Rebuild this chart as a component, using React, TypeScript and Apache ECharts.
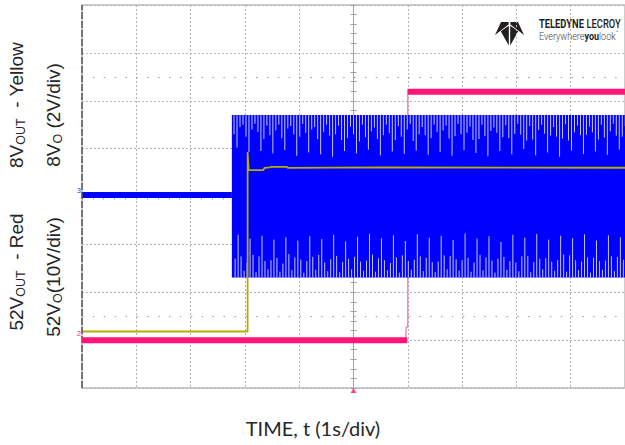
import React, { useEffect, useRef } from "react";
import * as echarts from "echarts";

// Axis extents in divisions (1 s/div horizontally, 8 divisions vertically)
const timeDivs = [-5, 5];
const voltDivs = [-4, 4];

// Blue trace: idle level, then switching band [start, end, high, low]
const blueIdle = [[-5, 0.03], [-2.24, 0.03]];
const blueSwitching = [-2.24, 5.2, 1.7, -1.69];

// Lighter streaks in the switching band: [time, end level]
const blueTopSpikes = [
  [-2.2, 1.3], [-2.145, 1.02], [-2.09, 1.45], [-2.035, 1.5],
  [-1.98, 1.25], [-1.925, 0.93], [-1.87, 1.4], [-1.815, 1.52],
  [-1.76, 1.35], [-1.705, 0.95], [-1.65, 1.2], [-1.595, 1.48],
  [-1.54, 1.28], [-1.485, 0.9], [-1.43, 1.38], [-1.375, 1.5],
  [-1.32, 1.22], [-1.265, 0.97], [-1.21, 1.42], [-1.155, 1.47],
  [-1.1, 1.3], [-1.045, 0.85], [-0.99, 1.25], [-0.935, 1.52],
  [-0.88, 1.33], [-0.825, 0.92], [-0.77, 1.4], [-0.715, 1.45],
  [-0.66, 1.2], [-0.605, 0.88], [-0.55, 1.35], [-0.495, 1.5],
  [-0.44, 1.27], [-0.385, 0.83], [-0.33, 1.3], [-0.275, 1.48],
  [-0.22, 1.18], [-0.165, 0.95], [-0.11, 1.22], [-0.055, 1.46],
  [0, 1.3], [0.055, 0.9], [0.11, 1.15], [0.165, 1.5],
  [0.22, 1.24], [0.275, 0.98], [0.33, 1.36], [0.385, 1.44],
  [0.44, 1.2], [0.495, 0.86], [0.55, 1.28], [0.605, 1.5],
  [0.66, 1.32], [0.715, 0.94], [0.77, 1.18], [0.825, 1.47],
  [0.88, 1.25], [0.935, 0.89], [0.99, 1.4], [1.045, 1.52],
  [1.1, 1.16], [1.155, 0.96], [1.21, 1.3], [1.265, 1.45],
  [1.32, 1.28], [1.375, 0.87], [1.43, 1.22], [1.485, 1.5],
  [1.54, 1.35], [1.595, 0.93], [1.65, 1.38], [1.705, 1.48],
  [1.76, 1.21], [1.815, 0.85], [1.87, 1.26], [1.925, 1.52],
  [1.98, 1.3], [2.035, 0.97], [2.09, 1.33], [2.145, 1.46],
  [2.2, 1.18], [2.255, 0.91], [2.31, 1.2], [2.365, 1.5],
  [2.42, 1.26], [2.475, 0.84], [2.53, 1.37], [2.585, 1.44],
  [2.64, 1.33], [2.695, 0.95], [2.75, 1.24], [2.805, 1.49],
  [2.86, 1.22], [2.915, 0.88], [2.97, 1.31], [3.025, 1.52],
  [3.08, 1.29], [3.135, 0.99], [3.19, 1.17], [3.245, 1.47],
  [3.3, 1.19], [3.355, 0.86], [3.41, 1.39], [3.465, 1.5],
  [3.52, 1.31], [3.575, 0.92], [3.63, 1.27], [3.685, 1.45],
  [3.74, 1.25], [3.795, 0.83], [3.85, 1.21], [3.905, 1.51],
  [3.96, 1.17], [4.015, 0.96], [4.07, 1.34], [4.125, 1.48],
  [4.18, 1.28], [4.235, 0.89], [4.29, 1.29], [4.345, 1.46],
  [4.4, 1.34], [4.455, 0.94], [4.51, 1.19], [4.565, 1.5],
  [4.62, 1.23], [4.675, 0.87], [4.73, 1.36], [4.785, 1.52],
  [4.84, 1.27], [4.895, 0.98], [4.95, 1.25], [5.005, 1.47],
];
const blueBottomSpikes = [
  [-2.18, -1.3], [-2.125, -0.8], [-2.07, -1.25], [-2.015, -1.55],
  [-1.96, -1.38], [-1.905, -0.88], [-1.85, -1.22], [-1.795, -1.58],
  [-1.74, -1.25], [-1.685, -0.82], [-1.63, -1.35], [-1.575, -1.52],
  [-1.52, -1.33], [-1.465, -0.9], [-1.41, -1.28], [-1.355, -1.57],
  [-1.3, -1.4], [-1.245, -0.85], [-1.19, -1.2], [-1.135, -1.54],
  [-1.08, -1.27], [-1.025, -0.92], [-0.97, -1.32], [-0.915, -1.59],
  [-0.86, -1.35], [-0.805, -0.83], [-0.75, -1.26], [-0.695, -1.53],
  [-0.64, -1.22], [-0.585, -0.89], [-0.53, -1.38], [-0.475, -1.56],
  [-0.42, -1.31], [-0.365, -0.8], [-0.31, -1.24], [-0.255, -1.58],
  [-0.2, -1.37], [-0.145, -0.94], [-0.09, -1.3], [-0.035, -1.52],
  [0.02, -1.26], [0.075, -0.84], [0.13, -1.36], [0.185, -1.55],
  [0.24, -1.34], [0.295, -0.78], [0.35, -1.21], [0.405, -1.57],
  [0.46, -1.29], [0.515, -0.87], [0.57, -1.33], [0.625, -1.54],
  [0.68, -1.39], [0.735, -0.81], [0.79, -1.27], [0.845, -1.59],
  [0.9, -1.23], [0.955, -0.93], [1.01, -1.35], [1.065, -1.53],
  [1.12, -1.32], [1.175, -0.79], [1.23, -1.25], [1.285, -1.56],
  [1.34, -1.28], [1.395, -0.86], [1.45, -1.37], [1.505, -1.58],
  [1.56, -1.36], [1.615, -0.82], [1.67, -1.23], [1.725, -1.52],
  [1.78, -1.24], [1.835, -0.91], [1.89, -1.31], [1.945, -1.55],
  [2.0, -1.33], [2.055, -0.77], [2.11, -1.28], [2.165, -1.57],
  [2.22, -1.38], [2.275, -0.88], [2.33, -1.22], [2.385, -1.54],
  [2.44, -1.27], [2.495, -0.83], [2.55, -1.34], [2.605, -1.59],
  [2.66, -1.3], [2.715, -0.95], [2.77, -1.26], [2.825, -1.53],
  [2.88, -1.35], [2.935, -0.8], [2.99, -1.38], [3.045, -1.56],
  [3.1, -1.25], [3.155, -0.86], [3.21, -1.24], [3.265, -1.58],
  [3.32, -1.37], [3.375, -0.78], [3.43, -1.3], [3.485, -1.52],
  [3.54, -1.29], [3.595, -0.9], [3.65, -1.36], [3.705, -1.55],
  [3.76, -1.33], [3.815, -0.82], [3.87, -1.21], [3.925, -1.57],
  [3.98, -1.23], [4.035, -0.87], [4.09, -1.33], [4.145, -1.54],
  [4.2, -1.36], [4.255, -0.79], [4.31, -1.27], [4.365, -1.59],
  [4.42, -1.28], [4.475, -0.92], [4.53, -1.35], [4.585, -1.53],
  [4.64, -1.34], [4.695, -0.81], [4.75, -1.25], [4.805, -1.56],
  [4.86, -1.26], [4.915, -0.85], [4.97, -1.32], [5.025, -1.58],
];

// Yellow trace (8V output)
const yellowTrace = [
  [-5, -2.82], [-1.95, -2.82], [-1.95, 0.93], [-1.93, 0.55], [-1.66, 0.55],
  [-1.64, 0.6], [-1.54, 0.61], [-1.52, 0.62], [-1.23, 0.62], [-1.21, 0.6],
  [0.5, 0.61], [5.1, 0.6],
];

// Red trace (52V output)
const redLow = [[-5, -3.0], [0.99, -3.0]];
const redEdge = [[0.96, -2.98], [0.97, -2.73], [1.0, -2.73], [1.0, 2.24]];
const redHigh = [[1.0, 2.19], [5.1, 2.19]];

// Dotted reference levels and trigger position
const refLevels = [2.5, -2.5];
const triggerPoint = [[0, -4]];

const App: React.FC = () => {
  const ref = useRef<HTMLDivElement>(null);

  useEffect(() => {
    document.body.style.margin = "0";
    if (!ref.current) return;
    const chart = echarts.init(ref.current, undefined, { renderer: "svg" });

    const tickColor = "#a0a0a0";
    const gridColor = "#b6b6b6";
    const labelFont = "Liberation Sans, Arial, sans-serif";
    const logoFont = "Roboto, Liberation Sans, sans-serif";

    const rotLabel = (x: number, y: number, text: string) => ({
      type: "text",
      x,
      y,
      rotation: Math.PI / 2,
      style: {
        text,
        align: "center",
        verticalAlign: "middle",
        rich: {
          a: { fontSize: 19, fontFamily: labelFont, fill: "#262626", lineHeight: 22 },
          s: { fontSize: 12.5, fontFamily: labelFont, fill: "#262626", lineHeight: 14, verticalAlign: "bottom" },
        },
      },
    });

    const spikeSeries = (data: number[][], base: number) => ({
      type: "custom",
      z: 3,
      silent: true,
      clip: true,
      data: data.map(([t, e]) => [t, e, base]),
      encode: { x: 0, y: [1, 2] },
      renderItem: (_p: any, api: any) => {
        const a = api.coord([api.value(0), api.value(2)]);
        const b = api.coord([api.value(0), api.value(1)]);
        return {
          type: "line",
          shape: { x1: a[0], y1: a[1], x2: b[0], y2: b[1] },
          style: { stroke: "#c6c6f2", lineWidth: 1 },
        };
      },
    });

    const axisBase = (dir: "x" | "y", primary: boolean) => ({
      type: "value",
      min: dir === "x" ? timeDivs[0] : voltDivs[0],
      max: dir === "x" ? timeDivs[1] : voltDivs[1],
      interval: 1,
      position: dir === "x" ? "bottom" : "left",
      axisLine: { show: primary, onZero: true, lineStyle: { color: tickColor, width: 1 } },
      axisTick: { show: true, inside: primary, length: 3, lineStyle: { color: tickColor } },
      minorTick: { show: true, splitNumber: 5, length: 3, lineStyle: { color: tickColor } },
      axisLabel: { show: false },
      splitLine: { show: primary, lineStyle: { color: gridColor, type: [2, 2], width: 1 } },
    });

    const dark = "#231f20";

    const option: any = {
      animation: false,
      backgroundColor: "#ffffff",
      grid: {
        left: 82,
        top: 5,
        width: 544,
        height: 383,
        show: true,
        borderColor: "#bdbdbd",
        borderWidth: 1.5,
        backgroundColor: "#ffffff",
      },
      xAxis: [axisBase("x", true), axisBase("x", false)],
      yAxis: [axisBase("y", true), axisBase("y", false)],
      series: [
        {
          type: "line",
          z: 1,
          silent: true,
          data: [],
          markLine: {
            silent: true,
            symbol: "none",
            label: { show: false },
            data: [
              ...refLevels.map((v) => ({
                yAxis: v,
                lineStyle: { color: "#9a9a9a", type: [1.5, 9.38], width: 1.2 },
              })),
              { xAxis: timeDivs[0], lineStyle: { color: "#5a5a5a", type: [7, 2], width: 1.5 } },
            ],
          },
        },
        {
          type: "line",
          z: 1,
          silent: true,
          showSymbol: false,
          data: redEdge,
          lineStyle: { color: "#f27aa9", width: 1.3 },
        },
        {
          type: "line",
          z: 2,
          silent: true,
          showSymbol: false,
          data: blueIdle,
          lineStyle: { color: "#0000ff", width: 6 },
        },
        {
          type: "custom",
          z: 2,
          silent: true,
          clip: true,
          data: [blueSwitching],
          encode: { x: [0, 1], y: [2, 3] },
          renderItem: (_p: any, api: any) => {
            const a = api.coord([api.value(0), api.value(2)]);
            const b = api.coord([api.value(1), api.value(3)]);
            return {
              type: "rect",
              shape: { x: a[0], y: a[1], width: b[0] - a[0], height: b[1] - a[1] },
              style: { fill: "#0000ff" },
            };
          },
        },
        spikeSeries(blueTopSpikes, blueSwitching[2]),
        spikeSeries(blueBottomSpikes, blueSwitching[3]),
        {
          type: "line",
          z: 4,
          silent: true,
          showSymbol: false,
          data: yellowTrace,
          lineStyle: { color: "#b4ae00", width: 1.8 },
        },
        {
          type: "line",
          z: 5,
          silent: true,
          showSymbol: false,
          data: redLow,
          lineStyle: { color: "#ff1477", width: 6 },
        },
        {
          type: "line",
          z: 5,
          silent: true,
          showSymbol: false,
          data: redHigh,
          lineStyle: { color: "#ff1477", width: 6 },
        },
        {
          type: "scatter",
          z: 6,
          silent: true,
          clip: false,
          data: triggerPoint,
          symbol: "triangle",
          symbolSize: [6, 5],
          symbolOffset: [0, 2.5],
          itemStyle: { color: "#ff1477" },
        },
      ],
      graphic: [
        rotLabel(16, 105, "{a|8V}{s|OUT}{a|  - Yellow}"),
        rotLabel(53, 115, "{a|8V}{s|O}{a| (2V/div)}"),
        rotLabel(16, 272, "{a|52V}{s|OUT}{a|  - Red}"),
        rotLabel(53, 277, "{a|52V}{s|O}{a|(10V/div)}"),
        {
          type: "text",
          x: 313,
          y: 428,
          style: {
            text: "TIME, t (1s/div)",
            fontSize: 20,
            fontFamily: "Lato, Open Sans, sans-serif",
            fill: "#262626",
            align: "center",
            verticalAlign: "middle",
          },
        },
        {
          type: "text",
          x: 79,
          y: 190,
          style: { text: "3", fontSize: 7, fill: "#2a2aff", align: "center", verticalAlign: "middle" },
        },
        {
          type: "text",
          x: 79,
          y: 333,
          style: { text: "2", fontSize: 7, fill: "#ff1477", align: "center", verticalAlign: "middle" },
        },
        // Teledyne LeCroy logo
        { type: "polygon", shape: { points: [[495, 35], [501, 22], [508.6, 22], [508.6, 24.5]] }, style: { fill: dark } },
        { type: "polygon", shape: { points: [[524, 35], [518, 22], [510.4, 22], [510.4, 24.5]] }, style: { fill: dark } },
        { type: "polygon", shape: { points: [[500.8, 31.2], [508.8, 25.8], [508.8, 45.5]] }, style: { fill: dark } },
        { type: "polygon", shape: { points: [[518.2, 31.2], [510.2, 25.8], [510.2, 45.5]] }, style: { fill: dark } },
        {
          type: "text",
          x: 539,
          y: 24.5,
          scaleX: 0.78,
          style: {
            text: "{b|TELEDYNE} {r|LECROY}",
            verticalAlign: "middle",
            rich: {
              b: { fontSize: 12, fontWeight: "bold", fontFamily: logoFont, fill: dark },
              r: { fontSize: 12, fontWeight: 500, fontFamily: logoFont, fill: dark },
            },
          },
        },
        {
          type: "text",
          x: 539,
          y: 36,
          scaleX: 0.86,
          style: {
            text: "{l|Everywhere}{b|you}{l|look}{t|™}",
            verticalAlign: "middle",
            rich: {
              l: { fontSize: 10.5, fontWeight: 300, fontFamily: logoFont, fill: "#444" },
              b: { fontSize: 10.5, fontWeight: "bold", fontFamily: logoFont, fill: dark },
              t: { fontSize: 5, fontFamily: logoFont, fill: "#444", verticalAlign: "top", lineHeight: 12 },
            },
          },
        },
      ],
    };

    chart.setOption(option);
    return () => chart.dispose();
  }, []);

  return <div ref={ref} style={{ width: 625, height: 445 }} />;
};

export default App;
